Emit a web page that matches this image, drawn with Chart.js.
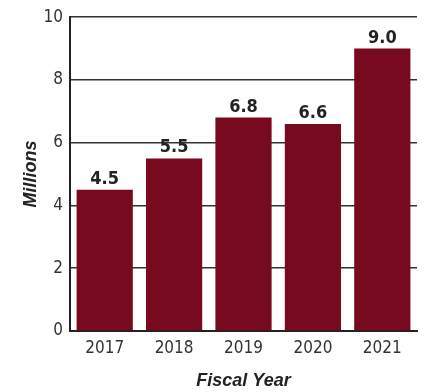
<!DOCTYPE html>
<html>
<head>
<meta charset="utf-8">
<script src="https://cdn.jsdelivr.net/npm/chart.js@4/dist/chart.umd.min.js"></script>
<style>
  html, body { margin: 0; padding: 0; background: #fff; }
  #wrap { width: 424px; height: 392px; position: relative; }
</style>
</head>
<body>
<div id="wrap"><canvas id="fyChart"></canvas></div>
<script>
const years = ['2017', '2018', '2019', '2020', '2021'];
const millions = [4.5, 5.5, 6.8, 6.6, 9.0];
const yTicks = [0, 2, 4, 6, 8, 10];

const NARROW = '"DejaVu Sans Condensed", "Liberation Sans", sans-serif';
const TITLE = '"Liberation Sans", Arial, sans-serif';
const INK = '#222';

// value printed above each bar
const barLabels = {
  id: 'barLabels',
  afterDatasetsDraw(chart) {
    const { ctx } = chart;
    const meta = chart.getDatasetMeta(0);
    ctx.save();
    ctx.font = `bold 18px ${NARROW}`;
    ctx.fillStyle = INK;
    ctx.textAlign = 'center';
    ctx.textBaseline = 'alphabetic';
    meta.data.forEach((bar, i) => {
      ctx.fillText(millions[i].toFixed(1), bar.x, bar.y - 6);
    });
    ctx.restore();
  }
};

new Chart(document.getElementById('fyChart'), {
  type: 'bar',
  data: {
    labels: years,
    datasets: [{
      data: millions,
      backgroundColor: '#770a1e',
      borderWidth: 0,
      barPercentage: 0.81,
      categoryPercentage: 1,
    }],
  },
  options: {
    responsive: true,
    maintainAspectRatio: false,
    animation: false,
    layout: { padding: { left: 6, top: -2, right: 7, bottom: 0 } },
    plugins: {
      legend: { display: false },
      tooltip: { enabled: false },
    },
    scales: {
      x: {
        grid: { display: false, drawTicks: false },
        border: { display: true, color: INK, width: 2 },
        ticks: { color: '#333', font: { family: NARROW, size: 17 }, padding: 7 },
        title: {
          display: true,
          text: 'Fiscal Year',
          color: INK,
          font: { family: TITLE, size: 18, weight: 'bold', style: 'italic' },
          padding: { top: 5, bottom: 0 },
        },
      },
      y: {
        min: 0,
        max: 10,
        afterBuildTicks(axis) { axis.ticks = yTicks.map(v => ({ value: v })); },
        afterFit(axis) { axis.width = 64; },
        grid: { color: '#333', lineWidth: 1.5, drawTicks: false },
        border: { display: true, color: INK, width: 2 },
        ticks: { color: '#333', font: { family: NARROW, size: 17 }, padding: 7 },
        title: {
          display: true,
          text: 'Millions',
          color: INK,
          font: { family: TITLE, size: 18, weight: 'bold', style: 'italic' },
          padding: { top: 14, bottom: 0 },
        },
      },
    },
  },
  plugins: [barLabels],
});
</script>
</body>
</html>
